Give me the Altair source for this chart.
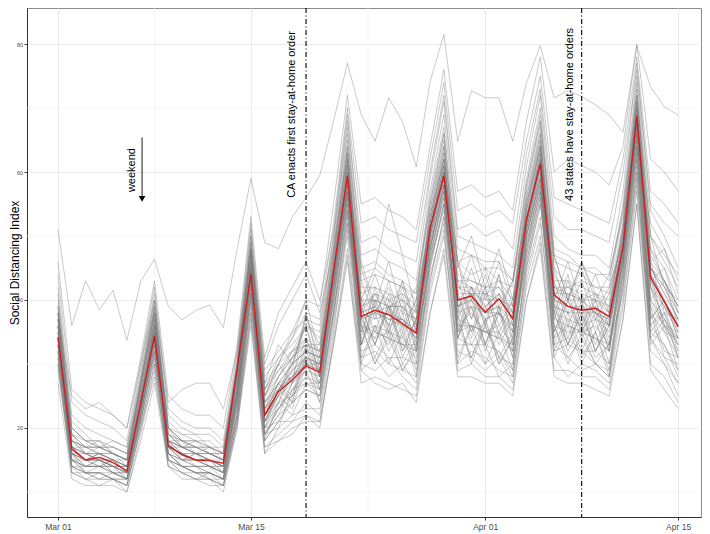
import json
import pandas as pd
import altair as alt

# ---------------- data ----------------
dates = pd.date_range("2020-03-01", "2020-04-15").strftime("%Y-%m-%d").tolist()

tick_days = [0, 14, 31, 45]
tick_labels = ["Mar 01", "Mar 15", "Apr 01", "Apr 15"]
y_ticks = [20, 40, 60, 80]
minor_x = [7, 22.5, 38]
minor_y = [10, 30, 50, 70]

national = [34.2, 16.7, 15.0, 15.4, 14.6, 13.3, 23.9,
            34.4, 17.3, 15.8, 15.0, 14.9, 14.5, 29.3,
            44.1, 22.0, 25.7, 27.5, 29.7, 28.7, 44.5,
            59.4, 37.4, 38.4, 37.7, 36.3, 34.8, 51.2,
            59.4, 40.0, 40.6, 38.1, 40.2, 37.1, 52.6,
            61.3, 40.8, 39.0, 38.4, 38.7, 37.4, 48.3,
            68.75, 43.5, 39.7, 35.8]

states = {
 "s01": [27,12,11,11,11,10,18, 27,14,12,12,11,11,20, 36,16,18,20,21,21,33, 47,27,28,27,26,25,38, 48,29,30,28,28,26,40, 49,29,29,28,28,26,37, 55,30,28,24],
 "s02": [29,13,12,13,12,10,19, 29,14,13,12,12,10,20, 38,17,18,19,22,20,34, 48,30,29,31,28,26,41, 50,32,31,29,31,27,42, 50,31,28,30,29,27,39, 57,32,30,25],
 "s03": [30,14,12,11,12,11,20, 30,15,13,12,13,11,21, 37,16,20,22,23,23,36, 50,29,31,28,30,27,42, 51,30,32,31,29,28,43, 52,33,31,29,30,28,40, 58,34,31,27],
 "s04": [31,13,13,13,12,11,20, 28,15,14,13,12,11,21, 39,18,21,21,24,22,35, 52,31,32,30,29,28,43, 53,33,33,30,32,28,44, 53,32,33,32,30,29,42, 59,35,33,28],
 "s05": [32,15,13,12,13,12,21, 31,16,14,13,13,12,22, 40,19,20,26,29,24,37, 51,33,38,32,36,29,44, 52,30,36,33,28,30,45, 55,38,32,36,31,33,41, 60,33,36,29],
 "s06": [30,14,14,14,13,12,21, 32,15,14,14,12,12,22, 41,18,24,22,27,25,38, 53,38,31,36,30,34,45, 55,36,31,37,30,34,46, 56,32,37,31,35,29,43, 61,38,31,30],
 "s07": [33,16,13,13,12,12,22, 33,16,14,13,13,12,23, 42,20,21,25,31,24,38, 54,30,36,33,38,30,46, 54,39,33,37,31,35,47, 57,33,38,32,37,30,44, 62,35,38,31],
 "s08": [34,15,14,14,14,13,22, 33,17,15,14,14,13,24, 43,19,23,25,27,26,40, 55,33,35,34,33,31,47, 56,35,36,35,34,32,48, 58,34,36,35,34,32,45, 63,38,35,31],
 "s09": [32,16,14,15,13,12,22, 34,16,15,15,14,13,24, 42,21,25,23,30,27,40, 56,37,33,39,31,36,48, 57,34,39,32,38,31,49, 58,39,33,38,32,36,46, 64,36,39,32],
 "s10": [35,17,15,14,14,13,23, 35,17,16,14,14,13,25, 44,20,24,25,28,26,41, 57,36,34,35,33,33,48, 58,36,38,35,36,33,50, 59,38,37,36,34,33,46, 65,40,37,33],
 "s11": [33,15,15,15,14,12,23, 34,18,15,16,15,13,25, 45,22,27,25,33,28,42, 58,33,40,34,39,32,49, 58,41,35,39,33,37,50, 60,35,40,34,38,32,47, 66,43,36,34],
 "s12": [36,16,14,14,15,14,24, 36,17,16,15,15,14,26, 44,21,24,28,30,29,43, 59,37,38,37,36,34,50, 59,39,40,37,38,35,51, 61,39,38,36,37,35,48, 67,42,39,35],
 "s13": [34,18,16,15,14,13,24, 35,19,17,16,15,14,26, 46,23,28,31,36,28,44, 60,40,35,41,34,39,50, 60,37,42,36,41,35,52, 62,43,36,41,35,39,48, 68,40,43,36],
 "s14": [35,17,15,16,15,14,24, 34,18,16,16,16,15,27, 45,22,25,28,31,30,44, 59,38,39,36,37,34,51, 61,39,41,38,39,37,52, 61,41,38,39,37,36,49, 68,44,40,36],
 "s15": [37,16,16,15,14,14,25, 36,17,17,16,15,14,27, 47,23,25,31,34,29,45, 61,35,41,36,42,35,51, 60,43,37,42,36,40,53, 63,37,43,36,41,36,49, 69,46,38,37],
 "s16": [36,19,16,16,15,15,25, 37,19,17,17,16,15,28, 46,24,26,30,32,31,45, 62,39,40,39,36,35,52, 62,42,42,39,41,38,54, 64,42,41,40,38,37,50, 70,45,42,38],
 "s17": [38,18,17,16,16,15,26, 37,18,18,16,17,15,28, 48,25,30,27,38,30,46, 61,43,37,43,36,40,52, 63,38,45,38,44,36,54, 65,45,38,43,37,41,50, 70,43,45,38],
 "s18": [37,17,17,17,16,14,26, 38,20,17,18,16,16,29, 47,24,28,31,33,32,47, 63,38,41,39,40,38,53, 62,43,42,41,40,39,55, 64,41,42,40,41,39,51, 71,45,43,39],
 "s19": [39,20,18,17,17,16,27, 39,19,18,17,17,16,29, 49,26,31,34,40,31,47, 64,38,44,38,43,36,54, 64,46,40,45,39,43,56, 66,40,46,39,44,38,52, 72,50,42,40],
 "s20": [38,19,18,18,16,15,27, 38,21,19,18,18,16,30, 48,25,30,32,33,33,48, 63,42,42,40,41,39,54, 65,44,43,42,43,40,56, 67,45,42,43,42,41,52, 72,48,45,40],
 "s21": [40,21,19,17,18,17,28, 40,20,19,19,17,17,30, 50,27,33,30,37,33,48, 65,46,39,46,38,42,55, 66,41,47,40,46,39,57, 68,47,40,46,40,44,53, 73,46,48,41],
 "s22": [42,22,20,19,18,17,29, 41,22,20,19,19,17,31, 51,28,31,33,36,34,49, 66,43,44,43,42,40,56, 67,46,44,45,43,42,58, 69,46,45,44,42,42,54, 74,50,46,42],
 "s23": [44,24,22,21,20,18,30, 42,23,21,20,20,18,32, 52,29,32,35,37,36,50, 67,45,46,44,43,41,57, 69,48,47,46,46,43,59, 70,48,47,45,45,43,55, 75,52,48,43],
 "s24": [46,26,24,23,22,20,31, 43,25,23,22,22,20,33, 53,31,38,42,46,40,51, 69,47,48,46,45,43,59, 71,50,49,48,47,45,61, 72,50,48,47,47,45,57, 77,54,50,45],
 "s25": [41,20,18,18,17,16,28, 40,20,18,18,17,16,30, 50,27,30,34,38,37,52, 70,52,53,51,50,49,62, 74,54,55,53,54,52,65, 75,56,55,54,53,52,62, 78,57,55,52],
 "s26": [39,18,17,17,16,15,27, 39,18,17,16,16,15,29, 49,25,28,32,36,35,50, 68,49,50,48,47,46,60, 72,51,52,50,51,48,63, 73,53,51,51,50,49,60, 76,55,52,50],
 "s27": [34,16,15,16,14,13,23, 35,17,16,15,14,14,26, 44,22,26,28,30,29,43, 58,40,45,55,47,38,50, 60,45,50,42,48,40,52, 62,44,40,46,41,38,49, 68,45,41,37],
 "s28": [33,15,14,14,13,13,22, 34,16,15,15,14,13,25, 43,21,25,27,29,28,42, 57,33,40,36,43,35,48, 58,35,42,36,44,33,50, 60,38,44,36,40,34,47, 66,42,37,34],
 "s29": [36,17,16,15,15,13,24, 36,17,16,16,15,14,26, 45,23,26,28,31,29,44, 60,45,38,42,35,40,51, 61,46,37,44,38,43,53, 62,47,40,45,38,42,49, 69,48,43,38],
 "s30": [31,14,13,13,12,12,21, 31,15,14,14,13,12,22, 40,19,22,24,26,25,38, 52,36,30,34,29,32,43, 53,38,30,36,31,30,45, 55,36,31,34,30,28,42, 60,34,30,27],
 "s31": [37,25,23,24,22,20,30, 40,24,26,27,27,23,32, 48,30,36,40,44,38,48, 64,44,45,43,42,41,55, 66,46,47,45,45,43,58, 68,47,46,45,44,44,54, 72,50,47,44],
 "s32": [38,19,17,17,16,15,27, 38,19,18,17,16,16,30, 48,26,30,35,40,39,55, 72,55,56,54,53,51,64, 76,57,58,56,57,54,68, 78,60,62,61,60,58,64, 80,62,60,57],
 "s33": [34,14,13,13,13,12,22, 33,16,14,13,13,12,24, 42,19,23,27,33,26,40, 56,31,36,30,35,28,46, 57,37,31,36,30,34,48, 59,31,36,30,35,28,45, 64,39,32,31],
 "s34": [31,16,15,16,15,13,23, 32,17,16,15,15,14,24, 41,21,23,26,27,27,41, 55,36,35,34,33,32,47, 56,37,36,35,34,33,48, 57,37,36,35,36,33,46, 65,40,36,33],
 "s35": [36,15,14,15,13,13,23, 36,16,15,14,14,12,25, 45,20,26,24,31,28,43, 58,39,33,39,32,37,49, 59,34,40,33,39,32,51, 61,40,33,39,32,37,47, 67,37,40,34],
 "s36": [37,18,16,16,15,14,25, 36,18,17,16,15,15,27, 46,23,27,28,30,30,44, 60,38,37,38,37,34,51, 61,39,41,37,38,36,52, 63,40,39,38,39,36,48, 69,44,40,35],
 "s37": [35,16,15,14,15,13,24, 35,17,15,16,14,14,26, 44,22,25,30,36,28,43, 57,34,42,35,40,33,50, 60,41,35,42,34,38,51, 60,35,41,35,40,33,47, 67,44,36,35],
 "s38": [39,19,17,18,16,15,27, 39,20,18,17,17,16,29, 48,25,29,31,33,32,46, 62,39,41,40,38,37,53, 63,42,41,41,42,38,55, 65,42,42,41,40,39,51, 71,46,43,39],
 "s39": [32,14,13,12,12,11,21, 32,15,13,13,12,11,22, 41,18,21,24,26,25,38, 54,32,33,31,31,30,45, 55,34,33,33,32,29,46, 56,33,34,32,32,30,43, 62,36,33,29],
 "s40": [38,17,16,17,16,15,26, 37,18,17,17,16,15,28, 47,24,27,30,32,31,45, 61,40,38,39,39,36,52, 62,40,42,39,41,37,53, 64,41,41,40,38,37,50, 70,45,42,37],
 "s41": [33,17,16,15,14,14,23, 33,18,16,15,15,14,25, 43,22,27,24,32,27,42, 57,39,33,40,32,37,48, 58,34,41,33,39,31,50, 59,41,34,40,33,38,46, 66,37,40,34],
 "s42": [36,16,15,15,15,14,24, 37,17,16,15,15,13,26, 45,21,26,29,31,30,44, 59,37,38,37,37,35,50, 60,38,39,38,38,35,52, 62,39,38,38,38,36,48, 68,43,39,36],
 "s43": [30,13,12,12,12,11,20, 30,14,13,12,12,11,21, 38,17,19,21,22,21,33, 46,29,27,26,27,24,38, 47,28,28,27,27,25,40, 48,28,27,27,26,25,37, 55,29,26,23],
 "s44": [33,15,14,14,14,12,22, 34,16,14,14,13,12,24, 43,20,23,26,28,27,41, 56,35,36,35,34,32,47, 57,36,36,35,35,32,49, 58,36,35,35,34,32,45, 64,39,36,32],
 "s45": [35,16,15,15,14,14,24, 35,17,16,15,15,14,26, 44,22,24,29,38,29,43, 58,33,39,35,41,32,49, 59,40,34,41,35,39,51, 61,34,40,35,39,32,47, 67,42,35,34],
 "s46": [37,18,17,16,16,15,26, 38,19,17,17,16,15,28, 47,24,27,30,32,31,46, 62,40,40,39,39,37,52, 62,41,41,40,40,38,54, 64,42,40,40,40,38,50, 70,45,41,37],
 "s47": [34,17,15,15,14,13,23, 34,17,15,15,14,13,25, 44,21,26,28,34,28,42, 57,37,34,39,33,37,48, 58,35,39,33,38,34,50, 59,38,33,38,32,36,46, 66,36,38,33],
 "s48": [38,20,18,17,17,16,27, 38,20,18,18,17,16,29, 48,26,29,32,34,32,47, 63,41,42,41,40,38,53, 64,43,43,42,42,39,55, 66,43,43,42,41,40,51, 71,47,43,39],
 "s49": [32,15,13,14,13,12,22, 32,15,14,13,13,12,23, 41,19,22,27,30,26,39, 54,36,30,35,29,33,46, 55,31,36,30,35,29,47, 57,36,30,35,30,33,44, 63,34,37,31],
 "s50": [36,17,16,16,15,14,25, 36,18,17,16,16,15,27, 46,23,26,29,31,30,44, 60,38,39,37,37,35,51, 61,39,40,38,39,36,52, 63,40,39,39,38,36,48, 69,44,40,36],
 "dc":  [51,36,43,38.5,41.5,33.7,42.9, 46.4,39,36.9,38.4,39.2,35.7,48, 59,49,48,53,56,59.5,68, 77,69,64.8,71.6,67.9,60.8,74.1, 81.5,64.8,72.7,71.6,71.6,64.8,74, 79.7,71.6,72.7,71.8,70.5,68.9,66.2, 79.7,73.3,70.2,68.9],
}

event_days = [18, 38]
event_texts = ["CA enacts first stay-at-home order", "43 states have stay-at-home orders"]
event_text_x = [17.0, 37.15]
event_text_y = [69, 69]

weekend_label = "weekend"
weekend_text_x = 5.35
weekend_text_y = 60.3
arrow_x = 6.1
arrow_y_top = 65.4
arrow_y_tip = 55.8

# ---------------- tables ----------------
rows = []
for st, vals in states.items():
    for i, v in enumerate(vals):
        rows.append({"state": st, "day": i, "date": dates[i], "value": v})
df_states = pd.DataFrame(rows)
df_nat = pd.DataFrame({"day": list(range(len(national))), "date": dates, "value": national})

X_DOM = [-2.25, 46.66]
Y_DOM = [6.09, 85.63]
FONT = "Liberation Sans"

xs = alt.Scale(domain=X_DOM, nice=False, zero=False)
ys = alt.Scale(domain=Y_DOM, nice=False, zero=False)

label_expr = ("{labels}[indexof({vals}, datum.value)]"
              .format(labels=json.dumps(tick_labels), vals=json.dumps(tick_days)))

x_axis = alt.Axis(values=tick_days, labelExpr=label_expr, grid=True,
                  labelFontSize=8.5, tickSize=3, labelPadding=2)
y_axis = alt.Axis(values=y_ticks, grid=True, labelFontSize=5.5, tickSize=3,
                  labelPadding=1.5, title="Social Distancing Index",
                  titleFontSize=12, titleFontWeight="normal", titleColor="black",
                  titleX=-13, titleY=254.5, titleAngle=270,
                  titleBaseline="middle", titleAlign="center")

minor_vx = alt.Chart(pd.DataFrame({"d": minor_x})).mark_rule(
    color="#f0f0f0", strokeWidth=0.7).encode(x=alt.X("d:Q", scale=xs))
minor_hy = alt.Chart(pd.DataFrame({"v": minor_y})).mark_rule(
    color="#f0f0f0", strokeWidth=0.7).encode(y=alt.Y("v:Q", scale=ys))

gray = alt.Chart(df_states).mark_line(
    color="#7d7d7d", strokeWidth=0.55, opacity=0.75, clip=True
).encode(
    x=alt.X("day:Q", scale=xs, axis=x_axis, title=None),
    y=alt.Y("value:Q", scale=ys, axis=y_axis),
    detail="state:N",
)

red = alt.Chart(df_nat).mark_line(color="#d01c1c", strokeWidth=1.4, clip=True).encode(
    x=alt.X("day:Q", scale=xs), y=alt.Y("value:Q", scale=ys))

vlines = alt.Chart(pd.DataFrame({"d": event_days})).mark_rule(
    color="black", strokeWidth=1.1, strokeDash=[5, 2.5, 1, 2.5]
).encode(x=alt.X("d:Q", scale=xs))

texts = alt.Chart(pd.DataFrame({"x": event_text_x, "y": event_text_y, "t": event_texts})).mark_text(
    angle=270, font=FONT, fontSize=11, color="black", align="center", baseline="middle"
).encode(x=alt.X("x:Q", scale=xs), y=alt.Y("y:Q", scale=ys), text="t:N")

wk_text = alt.Chart(pd.DataFrame({"x": [weekend_text_x], "y": [weekend_text_y], "t": [weekend_label]})).mark_text(
    angle=270, font=FONT, fontSize=11, color="black", align="center", baseline="middle"
).encode(x=alt.X("x:Q", scale=xs), y=alt.Y("y:Q", scale=ys), text="t:N")

arrow_line = alt.Chart(pd.DataFrame({"x": [arrow_x], "y": [arrow_y_top], "y2": [arrow_y_tip + 0.3]})).mark_rule(
    color="black", strokeWidth=0.9
).encode(x=alt.X("x:Q", scale=xs), y=alt.Y("y:Q", scale=ys), y2="y2:Q")

arrow_head = alt.Chart(pd.DataFrame({"x": [arrow_x], "y": [arrow_y_tip]})).mark_point(
    shape="triangle-down", filled=True, size=45, color="black", opacity=1
).encode(x=alt.X("x:Q", scale=xs), y=alt.Y("y:Q", scale=ys))

chart = alt.layer(
    minor_vx, minor_hy, gray, red, vlines, texts, wk_text, arrow_line, arrow_head
).properties(
    width=674, height=509,
    autosize=alt.AutoSizeParams(type="none"),
    padding={"left": 19, "top": 0, "right": 1, "bottom": 16},
).configure_view(
    stroke="#8c8c8c", strokeWidth=1
).configure_axis(
    domainColor="#333333", tickColor="#333333", labelColor="#4d4d4d",
    labelFont=FONT, titleFont=FONT, gridColor="#ebebeb", gridWidth=1,
)

chart.save("out.html", embed_options={"renderer": "svg", "actions": False})
